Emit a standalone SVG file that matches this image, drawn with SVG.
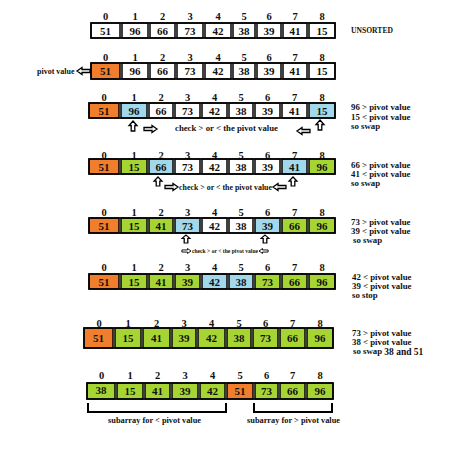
<svg xmlns="http://www.w3.org/2000/svg" xmlns:xlink="http://www.w3.org/1999/xlink" width="474" height="457" viewBox="0 0 474 457">
<style>
.c{stroke:#000;stroke-width:1.5;fill:#fff}
.o{fill:#F07E2C}
.g{fill:#A6D533}
.b{fill:#A2D8EA}
.n{font-family:"Liberation Serif",serif;font-weight:bold;font-size:11px;text-anchor:middle;fill:#111}
.i{font-family:"Liberation Serif",serif;font-weight:bold;font-size:10.5px;text-anchor:middle;fill:#111}
.t{font-family:"Liberation Serif",serif;font-weight:bold;font-size:8.8px;fill:#111}
.frame{fill:none;stroke:#000;stroke-width:1.5}
.ar{fill:#fff;stroke:#000;stroke-width:1.3;stroke-linejoin:miter}
.br{fill:none;stroke:#000;stroke-width:2}
</style>
<defs>
<path id="up" d="M0,0 L4,4.5 L1.8,4.5 L1.8,10 L-1.8,10 L-1.8,4.5 L-4,4.5 Z"/>
<path id="rt" d="M0,0 L-5,-3.5 L-5,-1.5 L-13,-1.5 L-13,1.5 L-5,1.5 L-5,3.5 Z"/>
<path id="lt" d="M0,0 L5,-3.5 L5,-1.5 L13,-1.5 L13,1.5 L5,1.5 L5,3.5 Z"/>
</defs>

<!-- Row 1 -->
<g id="row1">
<text class="i" x="105.5" y="20">0</text><text class="i" x="135" y="20">1</text><text class="i" x="162.5" y="20">2</text><text class="i" x="190" y="20">3</text><text class="i" x="218" y="20">4</text><text class="i" x="244" y="20">5</text><text class="i" x="269" y="20">6</text><text class="i" x="295" y="20">7</text><text class="i" x="322" y="20">8</text>
<g id="r1c0"><rect class="c" x="91" y="23" width="29" height="15"/><text class="n" x="105.5" y="34.5">51</text></g>
<g id="r1c1"><rect class="c" x="122" y="23" width="26" height="15"/><text class="n" x="135" y="34.5">96</text></g>
<g id="r1c2"><rect class="c" x="150" y="23" width="25" height="15"/><text class="n" x="162.5" y="34.5">66</text></g>
<g id="r1c3"><rect class="c" x="177" y="23" width="26" height="15"/><text class="n" x="190" y="34.5">73</text></g>
<g id="r1c4"><rect class="c" x="205" y="23" width="26" height="15"/><text class="n" x="218" y="34.5">42</text></g>
<g id="r1c5"><rect class="c" x="233" y="23" width="22" height="15"/><text class="n" x="244" y="34.5">38</text></g>
<g id="r1c6"><rect class="c" x="257" y="23" width="24" height="15"/><text class="n" x="269" y="34.5">39</text></g>
<g id="r1c7"><rect class="c" x="283" y="23" width="24" height="15"/><text class="n" x="295" y="34.5">41</text></g>
<g id="r1c8"><rect class="c" x="309" y="23" width="26" height="15"/><text class="n" x="322" y="34.5">15</text></g>
<rect class="frame" x="91" y="23" width="244" height="15"/>
<text class="t" x="351" y="33" style="font-size:7.6px">UNSORTED</text>
</g>

<!-- Row 2 -->
<g id="row2">
<text class="i" x="105.5" y="61">0</text><text class="i" x="135" y="61">1</text><text class="i" x="162.5" y="61">2</text><text class="i" x="190" y="61">3</text><text class="i" x="218" y="61">4</text><text class="i" x="244" y="61">5</text><text class="i" x="269" y="61">6</text><text class="i" x="295" y="61">7</text><text class="i" x="322" y="61">8</text>
<g id="r2c0"><rect class="c o" x="91" y="63" width="29" height="16"/><text class="n" x="105.5" y="75">51</text></g>
<g id="r2c1"><rect class="c" x="122" y="63" width="26" height="16"/><text class="n" x="135" y="75">96</text></g>
<g id="r2c2"><rect class="c" x="150" y="63" width="25" height="16"/><text class="n" x="162.5" y="75">66</text></g>
<g id="r2c3"><rect class="c" x="177" y="63" width="26" height="16"/><text class="n" x="190" y="75">73</text></g>
<g id="r2c4"><rect class="c" x="205" y="63" width="26" height="16"/><text class="n" x="218" y="75">42</text></g>
<g id="r2c5"><rect class="c" x="233" y="63" width="22" height="16"/><text class="n" x="244" y="75">38</text></g>
<g id="r2c6"><rect class="c" x="257" y="63" width="24" height="16"/><text class="n" x="269" y="75">39</text></g>
<g id="r2c7"><rect class="c" x="283" y="63" width="24" height="16"/><text class="n" x="295" y="75">41</text></g>
<g id="r2c8"><rect class="c" x="309" y="63" width="26" height="16"/><text class="n" x="322" y="75">15</text></g>
<rect class="frame" x="91" y="63" width="244" height="16"/>
<text class="t" x="37" y="74" style="font-size:8px">pivot value</text>
</g>

<!-- Row 3 -->
<g id="row3">
<text class="i" x="104" y="101">0</text><text class="i" x="134" y="101">1</text><text class="i" x="161" y="101">2</text><text class="i" x="187.5" y="101">3</text><text class="i" x="214.5" y="101">4</text><text class="i" x="241" y="101">5</text><text class="i" x="267.5" y="101">6</text><text class="i" x="294.5" y="101">7</text><text class="i" x="322" y="101">8</text>
<g id="r3c0"><rect class="c o" x="89" y="103" width="30" height="15"/><text class="n" x="104" y="114.5">51</text></g>
<g id="r3c1"><rect class="c b" x="121" y="103" width="26" height="15"/><text class="n" x="134" y="114.5">96</text></g>
<g id="r3c2"><rect class="c" x="149" y="103" width="24" height="15"/><text class="n" x="161" y="114.5">66</text></g>
<g id="r3c3"><rect class="c" x="175" y="103" width="25" height="15"/><text class="n" x="187.5" y="114.5">73</text></g>
<g id="r3c4"><rect class="c" x="202" y="103" width="25" height="15"/><text class="n" x="214.5" y="114.5">42</text></g>
<g id="r3c5"><rect class="c" x="229" y="103" width="24" height="15"/><text class="n" x="241" y="114.5">38</text></g>
<g id="r3c6"><rect class="c" x="255" y="103" width="25" height="15"/><text class="n" x="267.5" y="114.5">39</text></g>
<g id="r3c7"><rect class="c" x="282" y="103" width="25" height="15"/><text class="n" x="294.5" y="114.5">41</text></g>
<g id="r3c8"><rect class="c b" x="309" y="103" width="26" height="15"/><text class="n" x="322" y="114.5">15</text></g>
<rect class="frame" x="89" y="103" width="246" height="15"/>
<text class="t" x="175" y="131" textLength="103" lengthAdjust="spacingAndGlyphs">check &gt; or &lt; the pivot value</text>
<text class="t" x="351" y="110">96 &gt; pivot value</text>
<text class="t" x="351" y="119.5">15 &lt; pivot value</text>
<text class="t" x="351" y="129">so swap</text>
</g>

<!-- Row 4 -->
<g id="row4">
<text class="i" x="104" y="158.5">0</text><text class="i" x="134" y="158.5">1</text><text class="i" x="161" y="158.5">2</text><text class="i" x="187.5" y="158.5">3</text><text class="i" x="214.5" y="158.5">4</text><text class="i" x="241" y="158.5">5</text><text class="i" x="267.5" y="158.5">6</text><text class="i" x="294.5" y="158.5">7</text><text class="i" x="322" y="158.5">8</text>
<g id="r4c0"><rect class="c o" x="89" y="159" width="30" height="15"/><text class="n" x="104" y="170.5">51</text></g>
<g id="r4c1"><rect class="c g" x="121" y="159" width="26" height="15"/><text class="n" x="134" y="170.5">15</text></g>
<g id="r4c2"><rect class="c b" x="149" y="159" width="24" height="15"/><text class="n" x="161" y="170.5">66</text></g>
<g id="r4c3"><rect class="c" x="175" y="159" width="25" height="15"/><text class="n" x="187.5" y="170.5">73</text></g>
<g id="r4c4"><rect class="c" x="202" y="159" width="25" height="15"/><text class="n" x="214.5" y="170.5">42</text></g>
<g id="r4c5"><rect class="c" x="229" y="159" width="24" height="15"/><text class="n" x="241" y="170.5">38</text></g>
<g id="r4c6"><rect class="c" x="255" y="159" width="25" height="15"/><text class="n" x="267.5" y="170.5">39</text></g>
<g id="r4c7"><rect class="c b" x="282" y="159" width="25" height="15"/><text class="n" x="294.5" y="170.5">41</text></g>
<g id="r4c8"><rect class="c g" x="309" y="159" width="26" height="15"/><text class="n" x="322" y="170.5">96</text></g>
<rect class="frame" x="89" y="159" width="246" height="15"/>
<text class="t" x="179" y="190" textLength="93" lengthAdjust="spacingAndGlyphs">check &gt; or &lt; the pivot value</text>
<text class="t" x="351" y="168">66 &gt; pivot value</text>
<text class="t" x="351" y="177">41 &lt; pivot value</text>
<text class="t" x="351" y="186">so swap</text>
</g>

<!-- Row 5 -->
<g id="row5">
<text class="i" x="104" y="215.5">0</text><text class="i" x="134" y="215.5">1</text><text class="i" x="161" y="215.5">2</text><text class="i" x="187.5" y="215.5">3</text><text class="i" x="214.5" y="215.5">4</text><text class="i" x="241" y="215.5">5</text><text class="i" x="267.5" y="215.5">6</text><text class="i" x="294.5" y="215.5">7</text><text class="i" x="322" y="215.5">8</text>
<g id="r5c0"><rect class="c o" x="89" y="218" width="30" height="15"/><text class="n" x="104" y="229.5">51</text></g>
<g id="r5c1"><rect class="c g" x="121" y="218" width="26" height="15"/><text class="n" x="134" y="229.5">15</text></g>
<g id="r5c2"><rect class="c g" x="149" y="218" width="24" height="15"/><text class="n" x="161" y="229.5">41</text></g>
<g id="r5c3"><rect class="c b" x="175" y="218" width="25" height="15"/><text class="n" x="187.5" y="229.5">73</text></g>
<g id="r5c4"><rect class="c" x="202" y="218" width="25" height="15"/><text class="n" x="214.5" y="229.5">42</text></g>
<g id="r5c5"><rect class="c" x="229" y="218" width="24" height="15"/><text class="n" x="241" y="229.5">38</text></g>
<g id="r5c6"><rect class="c b" x="255" y="218" width="25" height="15"/><text class="n" x="267.5" y="229.5">39</text></g>
<g id="r5c7"><rect class="c g" x="282" y="218" width="25" height="15"/><text class="n" x="294.5" y="229.5">66</text></g>
<g id="r5c8"><rect class="c g" x="309" y="218" width="26" height="15"/><text class="n" x="322" y="229.5">96</text></g>
<rect class="frame" x="89" y="218" width="246" height="15"/>
<text class="t" x="192" y="253" textLength="66" lengthAdjust="spacingAndGlyphs" style="font-size:6.2px">check &gt; or &lt; the pivot value</text>
<text class="t" x="351" y="225">73 &gt; pivot value</text>
<text class="t" x="351" y="234">39 &lt; pivot value</text>
<text class="t" x="353" y="243">so swap</text>
</g>

<!-- Row 6 -->
<g id="row6">
<text class="i" x="104" y="270.5">0</text><text class="i" x="134" y="270.5">1</text><text class="i" x="161" y="270.5">2</text><text class="i" x="187.5" y="270.5">3</text><text class="i" x="214.5" y="270.5">4</text><text class="i" x="241" y="270.5">5</text><text class="i" x="267.5" y="270.5">6</text><text class="i" x="294.5" y="270.5">7</text><text class="i" x="322" y="270.5">8</text>
<g id="r6c0"><rect class="c o" x="89" y="274" width="30" height="15"/><text class="n" x="104" y="285.5">51</text></g>
<g id="r6c1"><rect class="c g" x="121" y="274" width="26" height="15"/><text class="n" x="134" y="285.5">15</text></g>
<g id="r6c2"><rect class="c g" x="149" y="274" width="24" height="15"/><text class="n" x="161" y="285.5">41</text></g>
<g id="r6c3"><rect class="c g" x="175" y="274" width="25" height="15"/><text class="n" x="187.5" y="285.5">39</text></g>
<g id="r6c4"><rect class="c b" x="202" y="274" width="25" height="15"/><text class="n" x="214.5" y="285.5">42</text></g>
<g id="r6c5"><rect class="c b" x="229" y="274" width="24" height="15"/><text class="n" x="241" y="285.5">38</text></g>
<g id="r6c6"><rect class="c g" x="255" y="274" width="25" height="15"/><text class="n" x="267.5" y="285.5">73</text></g>
<g id="r6c7"><rect class="c g" x="282" y="274" width="25" height="15"/><text class="n" x="294.5" y="285.5">66</text></g>
<g id="r6c8"><rect class="c g" x="309" y="274" width="26" height="15"/><text class="n" x="322" y="285.5">96</text></g>
<rect class="frame" x="89" y="274" width="246" height="15"/>
<text class="t" x="352" y="280">42 &lt; pivot value</text>
<text class="t" x="352" y="289">39 &lt; pivot value</text>
<text class="t" x="352" y="298">so  stop</text>
</g>

<!-- Row 7 -->
<g id="row7">
<text class="i" x="99" y="326.5">0</text><text class="i" x="128" y="326.5">1</text><text class="i" x="156.5" y="326.5">2</text><text class="i" x="184" y="326.5">3</text><text class="i" x="211.5" y="326.5">4</text><text class="i" x="239" y="326.5">5</text><text class="i" x="265.5" y="326.5">6</text><text class="i" x="292.5" y="326.5">7</text><text class="i" x="320" y="326.5">8</text>
<g id="r7c0"><rect class="c o" x="84" y="328" width="29" height="20"/><text class="n" x="98.5" y="342">51</text></g>
<g id="r7c1"><rect class="c g" x="115" y="328" width="26" height="20"/><text class="n" x="128" y="342">15</text></g>
<g id="r7c2"><rect class="c g" x="143" y="328" width="27" height="20"/><text class="n" x="156.5" y="342">41</text></g>
<g id="r7c3"><rect class="c g" x="172" y="328" width="24" height="20"/><text class="n" x="184" y="342">39</text></g>
<g id="r7c4"><rect class="c g" x="198" y="328" width="27" height="20"/><text class="n" x="211.5" y="342">42</text></g>
<g id="r7c5"><rect class="c g" x="227" y="328" width="24" height="20"/><text class="n" x="239" y="342">38</text></g>
<g id="r7c6"><rect class="c g" x="253" y="328" width="25" height="20"/><text class="n" x="265.5" y="342">73</text></g>
<g id="r7c7"><rect class="c g" x="280" y="328" width="25" height="20"/><text class="n" x="292.5" y="342">66</text></g>
<g id="r7c8"><rect class="c g" x="307" y="328" width="26" height="20"/><text class="n" x="320" y="342">96</text></g>
<rect class="frame" x="84" y="328" width="249" height="20"/>
<text class="t" x="352" y="336">73 &gt; pivot value</text>
<text class="t" x="352" y="345">38 &lt; pivot value</text>
<text class="t" x="353" y="354">so swap <tspan dy="1" style="font-size:9.5px">38 and 51</tspan></text>
</g>

<!-- Row 8 -->
<g id="row8">
<text class="i" x="101.5" y="379">0</text><text class="i" x="130" y="379">1</text><text class="i" x="157.5" y="379">2</text><text class="i" x="185" y="379">3</text><text class="i" x="212.5" y="379">4</text><text class="i" x="240" y="379">5</text><text class="i" x="266.5" y="379">6</text><text class="i" x="292.5" y="379">7</text><text class="i" x="320" y="379">8</text>
<g id="r8c0"><rect class="c g" x="87" y="383" width="28" height="16"/><text class="n" x="101" y="394">38</text></g>
<g id="r8c1"><rect class="c g" x="117" y="383" width="26" height="16"/><text class="n" x="130" y="395">15</text></g>
<g id="r8c2"><rect class="c g" x="145" y="383" width="25" height="16"/><text class="n" x="157.5" y="395">41</text></g>
<g id="r8c3"><rect class="c g" x="172" y="383" width="26" height="16"/><text class="n" x="185" y="395">39</text></g>
<g id="r8c4"><rect class="c g" x="200" y="383" width="25" height="16"/><text class="n" x="212.5" y="395">42</text></g>
<g id="r8c5"><rect class="c o" x="227" y="383" width="26" height="16"/><text class="n" x="240" y="395">51</text></g>
<g id="r8c6"><rect class="c g" x="255" y="383" width="23" height="16"/><text class="n" x="266.5" y="395">73</text></g>
<g id="r8c7"><rect class="c g" x="280" y="383" width="25" height="16"/><text class="n" x="292.5" y="395">66</text></g>
<g id="r8c8"><rect class="c g" x="307" y="383" width="26" height="16"/><text class="n" x="320" y="395">96</text></g>
<rect class="frame" x="87" y="383" width="246" height="16"/>
<text class="t" x="108" y="423" textLength="93" lengthAdjust="spacingAndGlyphs">subarray for &lt; pivot value</text>
<text class="t" x="247" y="423" textLength="93" lengthAdjust="spacingAndGlyphs">subarray for &gt; pivot value</text>
</g>

<!-- Connectors: arrows and brackets -->
<g id="connectors">
<use xlink:href="#lt" class="ar" x="77" y="71"/>
<use xlink:href="#up" class="ar" x="133" y="121"/>
<use xlink:href="#up" class="ar" x="320" y="120"/>
<use xlink:href="#rt" class="ar" x="157" y="129"/>
<use xlink:href="#lt" class="ar" x="297" y="131"/>
<use xlink:href="#up" class="ar" transform="translate(158,177) scale(1,0.9)"/>
<use xlink:href="#up" class="ar" transform="translate(293,177) scale(1,0.9)"/>
<use xlink:href="#rt" class="ar" x="178" y="187"/>
<use xlink:href="#lt" class="ar" x="273" y="187"/>
<use xlink:href="#up" class="ar" transform="translate(186,235) scale(1,0.8)"/>
<use xlink:href="#up" class="ar" transform="translate(265,235) scale(1,0.8)"/>
<use xlink:href="#rt" class="ar" transform="translate(191,251) scale(0.7)"/>
<use xlink:href="#lt" class="ar" transform="translate(259,251) scale(0.7)"/>
<path class="br" d="M88,403 V412 H226 V403"/>
<path class="br" d="M254,403 V412 H332 V403"/>
</g>
</svg>
